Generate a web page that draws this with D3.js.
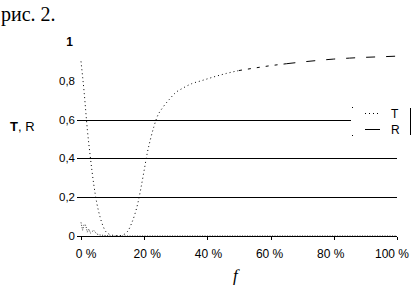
<!DOCTYPE html>
<html><head><meta charset="utf-8">
<script src="https://cdn.jsdelivr.net/npm/d3@7"></script>
<style>
html,body{margin:0;padding:0;background:#fff;}
svg{display:block;}
</style>
</head><body>
<svg id="c" width="414" height="286"></svg>
<script>
// ---- data ----
const fValuesT = [0,1,2,3,4,5,6,7,8,10,12,13,14,15,16,17,18,19,20,21,22,23,24,26,28,30,32,35,38,42,46,50,55,60,65,70,75,80,85,90,95,100];
const tValues  = [0.90,0.74,0.55,0.40,0.27,0.17,0.10,0.05,0.02,0.004,0.001,0.004,0.012,0.03,0.065,0.11,0.17,0.25,0.34,0.43,0.50,0.56,0.61,0.665,0.705,0.74,0.76,0.785,0.80,0.82,0.838,0.853,0.866,0.878,0.888,0.897,0.905,0.912,0.917,0.921,0.924,0.927];
const fValuesR = [0,0.5,1,1.5,2,2.5,3,4,5,6,8,10,20,40,60,80,100];
const rValues  = [0.07,0.03,0.06,0.055,0.02,0.035,0.015,0.03,0.01,0.005,0.002,0,0,0,0,0,0];
const xTicks = [0,20,40,60,80,100];
const xTickLabels = ["0 %","20 %","40 %","60 %","80 %","100 %"];
const yTicks = [0,0.2,0.4,0.6,0.8,1];
const yTickLabels = ["0","0,2","0,4","0,6","0,8","1"];
const gridValues = [0.2,0.4,0.6];
const seriesNames = ["T","R"];

const svg = d3.select("#c");
const x = d3.scaleLinear().domain([0,100]).range([81,397]);
const xLab = d3.scaleLinear().domain([0,100]).range([86,392]);
const y = d3.scaleLinear().domain([0,1]).range([236,42]);
const sans = "'Liberation Sans',Arial,sans-serif";

// title
svg.append("text").attr("x",1).attr("y",21)
  .attr("font-family","'Liberation Serif','Times New Roman',serif").attr("font-size",20)
  .text("рис. 2.");

// gridlines
svg.selectAll("line.grid").data(gridValues).enter().append("line")
  .attr("x1",77).attr("x2",d=> d===0.6 ? 351 : x(100))
  .attr("y1",d=>Math.round(y(d))+0.5).attr("y2",d=>Math.round(y(d))+0.5)
  .attr("stroke","#000").attr("stroke-width",1).attr("shape-rendering","crispEdges");

// x axis
const xAxis = d3.axisBottom(x).tickValues(xTicks).tickSize(3).tickFormat("");
const gx = svg.append("g").attr("transform",`translate(0,${Math.round(y(0))+0.5})`).call(xAxis);
gx.select(".domain").attr("d",`M77,0H${x(100)}`).attr("shape-rendering","crispEdges");
gx.selectAll(".tick line").attr("shape-rendering","crispEdges");
svg.selectAll("text.xl").data(xTicks).enter().append("text")
  .attr("x",d=>xLab(d)).attr("y",258).attr("text-anchor","middle")
  .attr("font-family",sans).attr("font-size",12)
  .text((d,i)=>xTickLabels[i]);

// y labels
svg.selectAll("text.yl").data(yTicks).enter().append("text")
  .attr("x",d=> d===1 ? 73 : 75).attr("y",d=>y(d)+4).attr("text-anchor","end")
  .attr("font-family",sans).attr("font-size",d=> d===1 ? 12 : 11.5)
  .attr("font-weight",(d)=> d===1 ? "bold":"normal")
  .text((d,i)=>yTickLabels[i]);

// axis titles
const tr = svg.append("text").attr("x",10).attr("y",131)
  .attr("font-family",sans).attr("font-size",13);
tr.append("tspan").attr("font-weight","bold").text("T");
tr.append("tspan").text(", R");
svg.append("text").attr("x",233).attr("y",281)
  .attr("font-family","'Liberation Serif','Times New Roman',serif").attr("font-style","italic").attr("font-size",17)
  .text("f");

// series
const ptsT = fValuesT.map((f,i)=>[f,tValues[i]]);
const line = d3.line().x(d=>x(d[0])).y(d=>y(d[1])).curve(d3.curveMonotoneX);
const parts = [
  {from:0, to:50, dash:"1,3"},
  {from:50, to:65, dash:"3,6"},
  {from:65, to:100, dash:"9,11"}
];
parts.forEach(p=>{
  svg.append("path").datum(ptsT.filter(d=>d[0]>=p.from && d[0]<=p.to))
    .attr("d",line).attr("fill","none").attr("stroke","#000").attr("stroke-width",1)
    .attr("stroke-dasharray",p.dash);
});
const ptsR = fValuesR.map((f,i)=>[f,rValues[i]]);
svg.append("path").datum(ptsR).attr("d",d3.line().x(d=>x(d[0])).y(d=>y(d[1])))
  .attr("fill","none").attr("stroke","#000").attr("stroke-width",0.8).attr("stroke-dasharray","1,1.5");

// legend
const lg = svg.append("g");
lg.append("rect").attr("x",352).attr("y",107).attr("width",58).attr("height",28).attr("fill","#fff");
lg.append("line").attr("x1",410.5).attr("x2",410.5).attr("y1",108).attr("y2",135).attr("stroke","#000").attr("shape-rendering","crispEdges");
[[352,107],[352,135]].forEach(p=>lg.append("rect").attr("x",p[0]).attr("y",p[1]).attr("width",1).attr("height",1).attr("fill","#000"));
seriesNames.forEach((s,i)=>{
  const yy = 113.5 + i*16;
  lg.append("line").attr("x1",365).attr("x2",380).attr("y1",yy).attr("y2",yy)
    .attr("stroke","#000").attr("stroke-dasharray", i===0 ? "1,3" : null).attr("shape-rendering","crispEdges");
  lg.append("text").attr("x",391).attr("y",yy+4)
    .attr("font-family",sans).attr("font-size",12).text(s);
});
</script>
</body></html>
